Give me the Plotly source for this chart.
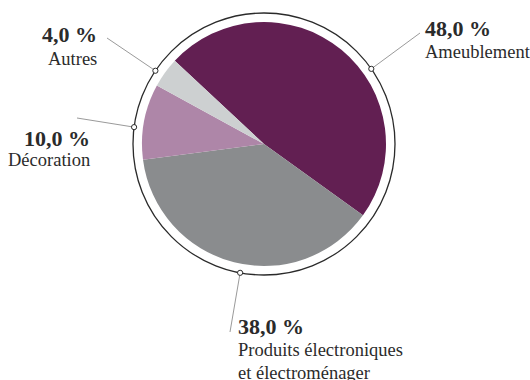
import math
import plotly.graph_objects as go

# Répartition par catégorie (%)
categories = ["Ameublement", "Produits électroniques<br>et électroménager", "Décoration", "Autres"]
label_lines = [["Ameublement"], ["Produits électroniques", "et électroménager"], ["Décoration"], ["Autres"]]
values = [48.0, 38.0, 10.0, 4.0]
colors = ["#621f52", "#8a8c8e", "#ae86a8", "#cdd0d1"]

W, H = 530, 380
CX, CY = 264, 144          # centre du camembert (px)
R_PIE, R_RING = 122, 131   # rayon du disque et de l'anneau
ROTATION = -47             # départ du premier secteur (degrés, sens horaire)

def px(x):
    return x / W

def py(y):
    return 1 - y / H

fig = go.Figure()
fig.add_trace(go.Pie(
    labels=categories,
    values=values,
    marker=dict(colors=colors, line=dict(width=0)),
    sort=False,
    direction="clockwise",
    rotation=ROTATION,
    textinfo="none",
    hoverinfo="label+percent",
    domain=dict(x=[px(CX - R_PIE), px(CX + R_PIE)], y=[py(CY + R_PIE), py(CY - R_PIE)]),
    showlegend=False,
))

shapes = [dict(type="circle", xref="paper", yref="paper",
               x0=px(CX - R_RING), x1=px(CX + R_RING),
               y0=py(CY + R_RING), y1=py(CY - R_RING),
               line=dict(color="#2a2a2a", width=1.3), layer="above")]

# Position des étiquettes : angle du point d'attache sur l'anneau,
# extrémité du trait, ancrage du texte
callouts = [
    dict(angle=55, end=(420, 33), tx=423, ty=(28, 52), align="left"),
    dict(angle=190.5, end=(230, 332), tx=236, ty=(326, 350, 373), align="left"),
    dict(angle=277.4, end=(77, 118), tx=92, ty=(138, 160), align="right"),
    dict(angle=304, end=(107, 38), tx=99, ty=(35, 59), align="right"),
]

annotations = []
for val, lines, c in zip(values, label_lines, callouts):
    a = math.radians(c["angle"])
    mx = CX + R_RING * math.sin(a)
    my = CY - R_RING * math.cos(a)
    ex, ey = c["end"]
    shapes.append(dict(type="line", xref="paper", yref="paper",
                       x0=px(mx), y0=py(my), x1=px(ex), y1=py(ey),
                       line=dict(color="#9a9a9a", width=1), layer="above"))
    shapes.append(dict(type="circle", xref="paper", yref="paper",
                       x0=px(mx - 2.6), x1=px(mx + 2.6),
                       y0=py(my + 2.6), y1=py(my - 2.6),
                       fillcolor="white", line=dict(color="#2a2a2a", width=1), layer="above"))
    texts = [f"<b>{val:.1f}".replace(".", ",") + " %</b>"] + lines
    for i, (t, y) in enumerate(zip(texts, c["ty"])):
        annotations.append(dict(
            x=px(c["tx"]), y=py(y), xref="paper", yref="paper",
            text=t, showarrow=False,
            xanchor="left" if c["align"] == "left" else "right",
            yanchor="middle",
            font=dict(family="Liberation Serif", size=22 if i == 0 else 18.5, color="#2b2b2b"),
        ))

fig.update_layout(
    width=W, height=H,
    margin=dict(l=0, r=0, t=0, b=0),
    paper_bgcolor="white",
    plot_bgcolor="white",
    shapes=shapes,
    annotations=annotations,
)

fig.write_html("out.html")
